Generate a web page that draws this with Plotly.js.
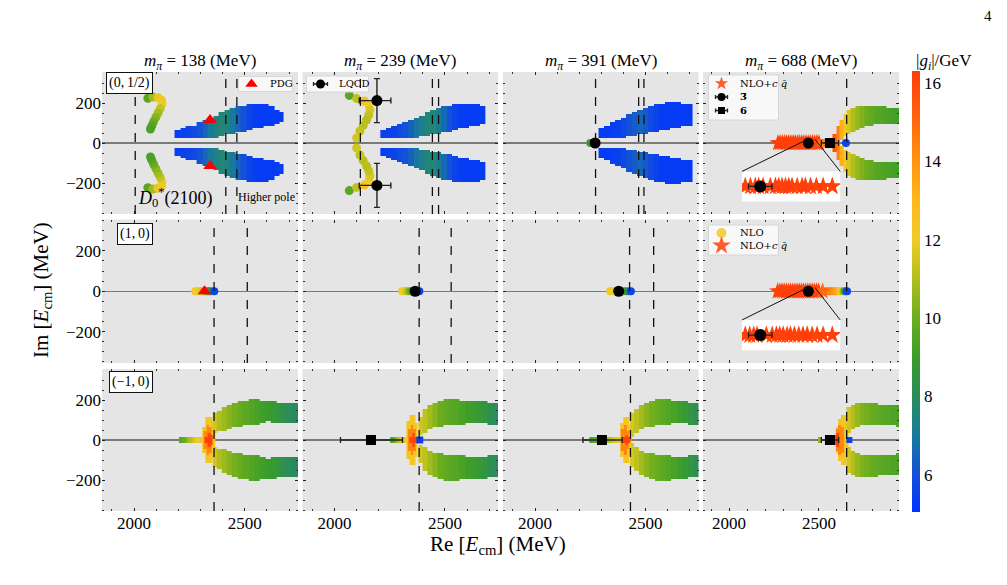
<!DOCTYPE html>
<html>
<head>
<meta charset="utf-8">
<script src="https://cdn.plot.ly/plotly-3.0.1.min.js"></script>
<style>html,body{margin:0;padding:0;background:#fff}#fig{width:1007px;height:585px}</style>
</head>
<body>
<div id="fig"></div>
<script>
// ======================= data (MeV) =======================
const pionMasses = [138, 239, 391, 688];
const channelLabels = ['(0,\u20091/2)', '(1,\u20090)', '(\u22121,\u20090)'];

// thresholds per row (columns = pion masses)
const thrTop = [[2005, 2414, 2464], [2117, 2443, 2471], [2274, 2469, 2493], [2654]];
const thrMid = [[2361, 2511], [2383, 2528], [2428, 2537], [2654]];
const thrBot = [[2361], [2383], [2432], [2654]];

// ---- (0,1/2), m_pi = 138 ----
const t138ArcRe = [2062, 2085, 2108, 2124, 2126, 2118, 2108, 2098, 2088, 2080, 2074];
const t138ArcIm = [224, 230, 226, 214, 195, 172, 150, 128, 106, 86, 70];
const t138ArcG  = [9.6, 10.8, 11.8, 12.3, 11.9, 11.3, 10.8, 10.4, 10.0, 9.6, 9.3];
const t138BandRe = [2195, 2220, 2245, 2270, 2295, 2320, 2345, 2370, 2395, 2420, 2445, 2470, 2495, 2520, 2545, 2570, 2595, 2620, 2645, 2665];
const t138BandLo = [28, 25, 25, 25, 25, 25, 27, 30, 36, 42, 48, 55, 60, 65, 72, 78, 84, 90, 100, 108];
const t138BandHi = [62, 72, 80, 88, 100, 112, 125, 138, 152, 165, 175, 182, 188, 195, 198, 196, 192, 185, 165, 150];
const t138BandG  = [5.4, 5.5, 5.6, 5.8, 6.0, 6.5, 7.0, 7.4, 7.6, 7.5, 7.0, 6.5, 6.0, 5.6, 5.4, 5.3, 5.3, 5.3, 5.3, 5.3];
const pdgD0Re = [2343, 2343];
const pdgD0Im = [114.5, -114.5];

// ---- (0,1/2), m_pi = 239 ----
const t239ArcRe = [2067, 2100, 2135, 2155, 2160, 2155, 2145, 2130, 2115, 2100];
const t239ArcIm = [238, 222, 210, 190, 165, 140, 115, 88, 60, 25];
const t239ArcG  = [9.6, 11.2, 12.6, 12.1, 11.6, 11.3, 11.1, 11.1, 11.3, 11.5];
const t239BandRe = [2220, 2245, 2270, 2295, 2320, 2345, 2370, 2395, 2420, 2445, 2470, 2495, 2520, 2545, 2570, 2595, 2620, 2645, 2670];
const t239BandLo = [25, 25, 25, 25, 25, 26, 28, 32, 37, 42, 48, 55, 60, 65, 72, 75, 82, 90, 98];
const t239BandHi = [62, 72, 80, 90, 100, 112, 125, 138, 150, 160, 172, 180, 188, 195, 198, 198, 196, 195, 185];
const t239BandG  = [5.4, 5.5, 5.6, 5.8, 6.0, 6.4, 6.9, 7.3, 7.6, 7.6, 7.2, 6.6, 6.0, 5.6, 5.4, 5.3, 5.3, 5.3, 5.3];
const lqcdRe = [2192, 2192];
const lqcdIm = [212, -212];
const lqcdErrRePlus = [63, 63];
const lqcdErrReMinus = [80, 80];
const lqcdErrIm = [110, 110];

// ---- (0,1/2), m_pi = 391 ----
const t391BandRe = [2300, 2325, 2350, 2375, 2400, 2425, 2450, 2475, 2500, 2525, 2550, 2575, 2600, 2625, 2650, 2675, 2700];
const t391BandLo = [28, 25, 25, 27, 30, 33, 37, 42, 50, 55, 60, 65, 68, 72, 78, 82, 88];
const t391BandHi = [75, 85, 100, 112, 125, 140, 155, 168, 178, 185, 190, 195, 200, 202, 200, 198, 195];
const t391BandG  = [5.3, 5.3, 5.4, 5.5, 5.7, 6.0, 6.3, 6.5, 6.2, 5.8, 5.5, 5.3, 5.3, 5.3, 5.3, 5.3, 5.3];
const t391NloRe = [2250];
const t391NloG  = [9.0];
const t391LatRe = [2272];

// ---- (0,1/2), m_pi = 688 ----
const t688StarRe = [2272, 2284, 2296, 2308, 2320, 2332, 2344, 2356, 2368, 2380, 2392, 2404, 2416, 2428, 2440, 2452, 2464, 2476, 2488, 2500];
const t688StarG  = [16.2, 16.3, 16.1, 16.2, 16.3, 16.2, 16.1, 16.3, 16.2, 16.2, 16.1, 16.3, 16.2, 16.2, 16.1, 16.2, 16.3, 16.2, 16.1, 16.0];
const t688NloRe = [2512, 2524, 2536, 2650];
const t688NloG  = [15.0, 14.7, 14.4, 5.6];
const t688BandRe = [2585, 2605, 2625, 2645, 2665, 2690, 2715, 2740, 2765, 2790, 2815, 2840, 2865, 2890, 2915, 2940];
const t688BandLo = [0, 0, 20, 35, 45, 55, 65, 80, 88, 90, 92, 92, 95, 98, 98, 98];
const t688BandHi = [40, 80, 115, 140, 160, 172, 180, 185, 187, 187, 185, 182, 180, 178, 176, 175];
const t688BandG  = [15.5, 14.5, 13.2, 12.3, 11.6, 11.0, 10.6, 10.3, 10.0, 9.8, 9.6, 9.5, 9.4, 9.3, 9.2, 9.2];
const trip3Re = [2441];
const trip3Err = [5];
const sext6Re = [2561];
const sext6Err = [48];
// zoomed strip around the 3bar point
const t688InsetStarRe = [2437.4, 2439.6, 2441.7, 2443.1, 2445.0, 2448.1, 2450.3, 2451.7, 2453.1, 2454.6, 2456.0, 2457.4, 2459.6, 2461.7, 2463.1, 2465.3, 2467.8, 2470.7, 2474.6];
const t688InsetStarG  = [16.2, 16.1, 16.3, 16.2, 16.2, 16.1, 16.3, 16.2, 16.2, 16.1, 16.3, 16.2, 16.1, 16.2, 16.3, 16.2, 16.1, 16.2, 16.2];
const t688InsetTripRe = [2443.8];

// ---- (1,0) ----
const m138NloRe = [2276, 2284, 2292, 2300, 2308, 2316, 2323, 2330, 2338, 2346, 2362];
const m138NloG  = [12.2, 12.1, 12.0, 11.8, 11.5, 11.0, 10.5, 10.0, 9.2, 8.5, 5.6];
const pdgDs0Re = [2317.8];
const m239NloRe = [2306, 2314, 2322, 2330, 2338, 2346, 2354, 2362, 2384];
const m239NloG  = [12.2, 12.0, 11.8, 11.2, 10.5, 9.8, 9.2, 8.5, 5.6];
const m239LatRe = [2365];
const m391NloRe = [2340, 2348, 2356, 2364, 2372, 2380, 2390, 2400, 2412, 2424, 2434];
const m391NloG  = [12.2, 12.1, 12.0, 11.8, 11.5, 11.0, 10.5, 10.0, 9.0, 8.0, 5.6];
const m391LatRe = [2379];
const m688StarRe = [2270, 2282, 2294, 2306, 2318, 2330, 2342, 2354, 2366, 2378, 2390, 2402, 2414, 2426, 2438, 2450, 2462, 2474, 2486, 2498, 2520];
const m688StarG  = [16.2, 16.1, 16.3, 16.2, 16.2, 16.1, 16.3, 16.2, 16.1, 16.2, 16.3, 16.2, 16.2, 16.1, 16.2, 16.3, 16.2, 16.1, 16.2, 16.1, 15.0];
const m688NloRe = [2535, 2548, 2561, 2574, 2587, 2600, 2612, 2624, 2636, 2646, 2656];
const m688NloG  = [14.8, 14.6, 14.4, 14.2, 14.0, 13.6, 13.0, 12.2, 10.5, 8.0, 5.6];
const m688LatRe = [2441];
const m688InsetStarRe = [2437.4, 2439.3, 2441.0, 2442.4, 2446.4, 2448.9, 2450.7, 2452.1, 2453.6, 2455.3, 2456.7, 2458.4, 2460.3, 2462.1, 2463.9, 2466.0, 2468.1, 2470.7, 2474.6];
const m688InsetStarG  = [16.2, 16.1, 16.3, 16.2, 16.2, 16.1, 16.3, 16.2, 16.2, 16.1, 16.3, 16.2, 16.1, 16.2, 16.3, 16.2, 16.1, 16.2, 16.2];
const m688InsetLatRe = [2443.8];

// ---- (-1,0) ----
const b138BarRe = [2210, 2225, 2240, 2255, 2270, 2285, 2300];
const b138BarG  = [9.5, 9.8, 10.5, 11.0, 11.5, 12.0, 12.3];
const b138FanYRe = [2315, 2330, 2345, 2358];
const b138FanYHi = [60, 110, 115, 90];
const b138FanORe = [2320, 2332, 2345];
const b138FanOHi = [40, 75, 60];
const b138FanRRe = [2325, 2338, 2350];
const b138FanRHi = [15, 35, 20];
const b138ArmRe = [2365, 2385, 2405, 2430, 2455, 2480, 2505, 2530, 2555, 2580, 2605, 2630, 2655, 2680, 2705, 2730];
const b138ArmLo = [40, 45, 50, 55, 62, 67, 72, 75, 80, 88, 92, 90, 88, 85, 83, 82];
const b138ArmHi = [135, 148, 160, 175, 185, 192, 198, 200, 200, 198, 197, 193, 188, 185, 185, 188];
const b138ArmG  = [11.5, 11.0, 10.7, 10.4, 10.1, 9.9, 9.7, 9.5, 9.3, 9.1, 9.0, 8.8, 8.5, 8.2, 8.0, 7.9];

const b239BarRe = [2258, 2272, 2286, 2300, 2314, 2326];
const b239BarG  = [9.5, 10.0, 10.8, 11.5, 12.0, 12.3];
const b239FanYRe = [2332, 2345, 2358, 2370];
const b239FanYHi = [90, 125, 120, 80];
const b239FanORe = [2338, 2350, 2362];
const b239FanOHi = [50, 75, 50];
const b239FanRRe = [2345, 2357, 2368];
const b239FanRHi = [15, 30, 15];
const b239EdgeRe = [2386];
const b239EdgeG  = [5.5];
const b239ArmRe = [2390, 2410, 2430, 2455, 2480, 2505, 2530, 2555, 2580, 2605, 2630, 2655, 2680, 2705, 2735];
const b239ArmLo = [25, 40, 55, 65, 70, 73, 75, 78, 80, 82, 83, 83, 82, 80, 78];
const b239ArmHi = [110, 150, 175, 188, 195, 200, 200, 200, 198, 196, 193, 192, 190, 186, 183];
const b239ArmG  = [11.5, 11.2, 10.8, 10.4, 10.0, 9.8, 9.6, 9.5, 9.3, 9.1, 9.0, 8.8, 8.5, 8.2, 8.0];
const b239SextRe = [2165];
const b239SextErrPlus = [143];
const b239SextErrMinus = [138];

const b391BarRe = [2252, 2265, 2278, 2290, 2318, 2332, 2346, 2360, 2374, 2386];
const b391BarG  = [9.3, 9.5, 9.8, 10.0, 10.5, 11.0, 11.3, 11.6, 12.0, 12.3];
const b391FanYRe = [2392, 2405, 2418, 2430];
const b391FanYHi = [80, 115, 110, 75];
const b391FanORe = [2395, 2408, 2420];
const b391FanOHi = [55, 75, 45];
const b391FanRRe = [2402, 2414, 2425];
const b391FanRHi = [15, 25, 12];
const b391ArmRe = [2440, 2460, 2480, 2505, 2530, 2555, 2580, 2605, 2630, 2655, 2680, 2705, 2730];
const b391ArmLo = [20, 40, 55, 65, 70, 75, 78, 80, 82, 83, 83, 80, 78];
const b391ArmHi = [130, 155, 175, 188, 195, 200, 203, 202, 198, 195, 192, 188, 185];
const b391ArmG  = [11.6, 11.2, 10.8, 10.4, 10.1, 9.9, 9.7, 9.5, 9.3, 9.1, 8.8, 8.5, 8.2];
const b391SextRe = [2303];
const b391SextErrPlus = [91];
const b391SextErrMinus = [86];

const b688BarRe = [2500, 2512];
const b688BarG  = [10.5, 10.8];
const b688FanYRe = [2600, 2615, 2630, 2645, 2660];
const b688FanYHi = [60, 100, 125, 120, 100];
const b688FanORe = [2585, 2600, 2615, 2630];
const b688FanOHi = [20, 50, 70, 60];
const b688FanRRe = [2580, 2592, 2605];
const b688FanRHi = [12, 25, 30];
const b688EdgeRe = [2669];
const b688EdgeG  = [5.5];
const b688ArmRe = [2665, 2690, 2715, 2740, 2765, 2790, 2815, 2840, 2865, 2890, 2915, 2940];
const b688ArmLo = [40, 60, 70, 73, 75, 75, 73, 72, 72, 73, 72, 70];
const b688ArmHi = [160, 172, 180, 183, 183, 182, 180, 178, 177, 175, 172, 170];
const b688ArmG  = [11.5, 11.0, 10.6, 10.3, 10.1, 9.9, 9.8, 9.7, 9.6, 9.5, 9.4, 9.4];

// fixed |g| levels of the fan layers
const fanYellowG = 12.3, fanOrangeG = 14.3, fanRedG = 16.1;

// ======================= layout geometry =======================
const W = 1007, H = 585;
const COLS = [[102, 298], [302.5, 498], [503, 698.5], [703, 899]];
const ROWS = [[72, 214], [219.5, 363], [369, 511]];
const RE_RANGE = [[1855, 2740], [1855, 2740], [1855, 2740], [1855, 2945]];
const IM_RANGE = [-355, 355];
const SERIF = '"Liberation Serif", "DejaVu Serif", serif';

const G_MIN = 5.05, G_MAX = 16.3;
const colorscale = [
  [0.000, '#0033ff'], [0.084, '#1450d8'], [0.173, '#177a9c'], [0.262, '#2b8c5c'],
  [0.351, '#3a9c2a'], [0.440, '#6cad1e'], [0.529, '#b1bf1c'], [0.618, '#f0cc28'],
  [0.707, '#ffb71c'], [0.796, '#ff9410'], [0.884, '#ff6a0e'], [1.000, '#ff3c0a']
];

function ids(r, c) {
  const k = r * 4 + c + 1;
  const s = k === 1 ? '' : String(k);
  return { x: 'x' + s, y: 'y' + s, k };
}

// Im grid used to rasterise the pole bands
const imGrid = [];
for (let v = -350; v <= 350; v += 10) imGrid.push(v);

const traces = [];

// band of poles: one column per Re sample, Im spanning [lo, hi] (and its conjugate)
function band(r, c, re, lo, hi, g, conj) {
  const a = ids(r, c);
  const gv = Array.isArray(g) ? g : re.map(() => g);
  const z = imGrid.map(y => re.map((_, i) => {
    const inUp = y >= lo[i] - 0.1 && y <= hi[i] + 0.1;
    const inDn = conj && y >= -hi[i] - 0.1 && y <= -lo[i] + 0.1;
    return (inUp || inDn) ? gv[i] : null;
  }));
  traces.push({ type: 'heatmap', x: re, y: imGrid, z, coloraxis: 'coloraxis',
    xaxis: a.x, yaxis: a.y, hoverinfo: 'skip', showlegend: false });
}
function zeros(arr) { return arr.map(() => 0); }

function colored(r, c, re, im, g, symbol, size) {
  const a = ids(r, c);
  traces.push({ type: 'scatter', mode: 'markers', x: re, y: im,
    xaxis: a.x, yaxis: a.y, hoverinfo: 'skip', showlegend: false,
    marker: { color: g, coloraxis: 'coloraxis', symbol, size, line: { width: 0 } } });
}
function conjPair(arr, neg) { return arr.concat(neg ? arr.map(v => -v) : arr); }
function black(r, c, re, im, symbol, size, errX) {
  const a = ids(r, c);
  const t = { type: 'scatter', mode: 'markers', x: re, y: im, xaxis: a.x, yaxis: a.y,
    showlegend: false, hoverinfo: 'skip', marker: { symbol, color: '#000', size } };
  if (errX) t.error_x = Object.assign({ type: 'data', color: '#222', thickness: 1.4, width: 3 }, errX);
  traces.push(t);
  return t;
}

// ---------- row 1 : (0,1/2) ----------
band(0, 0, t138BandRe, t138BandLo, t138BandHi, t138BandG, true);
colored(0, 0, conjPair(t138ArcRe), conjPair(t138ArcIm, true), conjPair(t138ArcG), 'circle', 9);
traces.push({ type: 'scatter', mode: 'markers', x: pdgD0Re, y: pdgD0Im, xaxis: 'x', yaxis: 'y',
  showlegend: false, hoverinfo: 'skip', marker: { symbol: 'triangle-up', color: '#ff0000', size: 12 } });

band(0, 1, t239BandRe, t239BandLo, t239BandHi, t239BandG, true);
colored(0, 1, conjPair(t239ArcRe), conjPair(t239ArcIm, true), conjPair(t239ArcG), 'circle', 9);
const lq = black(0, 1, lqcdRe, lqcdIm, 'circle', 11,
  { symmetric: false, array: lqcdErrRePlus, arrayminus: lqcdErrReMinus });
lq.error_y = { type: 'data', array: lqcdErrIm, color: '#222', thickness: 1.4, width: 3 };

band(0, 2, t391BandRe, t391BandLo, t391BandHi, t391BandG, true);
colored(0, 2, t391NloRe, zeros(t391NloRe), t391NloG, 'circle', 8);
black(0, 2, t391LatRe, zeros(t391LatRe), 'circle', 11);

band(0, 3, t688BandRe, t688BandLo, t688BandHi, t688BandG, true);
colored(0, 3, t688StarRe, zeros(t688StarRe), t688StarG, 'star', 13);
colored(0, 3, t688NloRe, zeros(t688NloRe), t688NloG, 'circle', 8);
black(0, 3, trip3Re, zeros(trip3Re), 'circle', 11, { array: trip3Err });
black(0, 3, sext6Re, zeros(sext6Re), 'square', 10, { array: sext6Err });

// ---------- row 2 : (1,0) ----------
colored(1, 0, m138NloRe, zeros(m138NloRe), m138NloG, 'circle', 8);
traces.push({ type: 'scatter', mode: 'markers', x: pdgDs0Re, y: zeros(pdgDs0Re), xaxis: 'x5', yaxis: 'y5',
  showlegend: false, hoverinfo: 'skip', marker: { symbol: 'triangle-up', color: '#ff0000', size: 12 } });
colored(1, 1, m239NloRe, zeros(m239NloRe), m239NloG, 'circle', 8);
black(1, 1, m239LatRe, zeros(m239LatRe), 'circle', 11);
colored(1, 2, m391NloRe, zeros(m391NloRe), m391NloG, 'circle', 8);
black(1, 2, m391LatRe, zeros(m391LatRe), 'circle', 11);
colored(1, 3, m688NloRe, zeros(m688NloRe), m688NloG, 'circle', 8);
colored(1, 3, m688StarRe, zeros(m688StarRe), m688StarG, 'star', 13);
black(1, 3, m688LatRe, zeros(m688LatRe), 'circle', 11);

// ---------- row 3 : (-1,0) ----------
function fanAndArms(c, barRe, barG, yRe, yHi, oRe, oHi, rRe, rHi, armRe, armLo, armHi, armG) {
  band(2, c, barRe, barRe.map(() => 0), barRe.map(() => 15), barG, true);
  band(2, c, yRe, yRe.map(() => 0), yHi, fanYellowG, true);
  band(2, c, oRe, oRe.map(() => 0), oHi, fanOrangeG, true);
  band(2, c, rRe, rRe.map(() => 0), rHi, fanRedG, true);
  band(2, c, armRe, armLo, armHi, armG, true);
}
fanAndArms(0, b138BarRe, b138BarG, b138FanYRe, b138FanYHi, b138FanORe, b138FanOHi, b138FanRRe, b138FanRHi, b138ArmRe, b138ArmLo, b138ArmHi, b138ArmG);
fanAndArms(1, b239BarRe, b239BarG, b239FanYRe, b239FanYHi, b239FanORe, b239FanOHi, b239FanRRe, b239FanRHi, b239ArmRe, b239ArmLo, b239ArmHi, b239ArmG);
fanAndArms(2, b391BarRe, b391BarG, b391FanYRe, b391FanYHi, b391FanORe, b391FanOHi, b391FanRRe, b391FanRHi, b391ArmRe, b391ArmLo, b391ArmHi, b391ArmG);
fanAndArms(3, b688BarRe, b688BarG, b688FanYRe, b688FanYHi, b688FanORe, b688FanOHi, b688FanRRe, b688FanRHi, b688ArmRe, b688ArmLo, b688ArmHi, b688ArmG);
colored(2, 1, b239EdgeRe, zeros(b239EdgeRe), b239EdgeG, 'square', 7);
colored(2, 3, b688EdgeRe, zeros(b688EdgeRe), b688EdgeG, 'square', 6);
black(2, 1, b239SextRe, zeros(b239SextRe), 'square', 10, { symmetric: false, array: b239SextErrPlus, arrayminus: b239SextErrMinus });
black(2, 2, b391SextRe, zeros(b391SextRe), 'square', 10, { symmetric: false, array: b391SextErrPlus, arrayminus: b391SextErrMinus });
black(2, 3, sext6Re, zeros(sext6Re), 'square', 10, { array: sext6Err });

// ---------- zoomed insets in the m_pi = 688 column ----------
const insetBoxRe = [2072, 2618];
const insetBoxIm = [-292, -142];
const insetRe = [2436, 2478];
const insetIm = [-18, 18];

function toPx(r, c, re, im) {
  const [x0, x1] = COLS[c], [y0, y1] = ROWS[r];
  const [a, b] = RE_RANGE[c];
  return [x0 + (re - a) / (b - a) * (x1 - x0),
          y1 - (im - IM_RANGE[0]) / (IM_RANGE[1] - IM_RANGE[0]) * (y1 - y0)];
}

const layout = {
  width: W, height: H, margin: { l: 0, r: 0, t: 0, b: 0 },
  paper_bgcolor: '#fff', plot_bgcolor: 'rgba(0,0,0,0)',
  hovermode: false, showlegend: false, font: { family: SERIF, color: '#000' },
  coloraxis: {
    colorscale, cmin: G_MIN, cmax: G_MAX,
    colorbar: {
      x: 912 / W, xanchor: 'left', xpad: 0, ypad: 0,
      y: 1 - 291.5 / H, yanchor: 'middle', len: 441 / H, lenmode: 'fraction',
      thickness: 8, outlinewidth: 0, ticks: '',
      tickvals: [6, 8, 10, 12, 14, 16], tickfont: { family: SERIF, size: 17, color: '#000' }
    }
  },
  shapes: [], annotations: []
};

for (let r = 0; r < 3; r++) {
  for (let c = 0; c < 4; c++) {
    const a = ids(r, c);
    const xk = 'xaxis' + (a.k === 1 ? '' : a.k), yk = 'yaxis' + (a.k === 1 ? '' : a.k);
    layout[xk] = {
      domain: [COLS[c][0] / W, COLS[c][1] / W], anchor: a.y, range: RE_RANGE[c],
      showgrid: false, zeroline: false, showline: false, mirror: 'ticks',
      ticks: 'inside', ticklen: 3, tickwidth: 1, tickcolor: '#222',
      tick0: 2000, dtick: 500, showticklabels: r === 2,
      tickfont: { family: SERIF, size: 17, color: '#000' },
      minor: { dtick: 100, ticks: 'inside', ticklen: 2, tickcolor: '#333', showgrid: false }
    };
    layout[yk] = {
      domain: [1 - ROWS[r][1] / H, 1 - ROWS[r][0] / H], anchor: a.x, range: IM_RANGE,
      showgrid: false, zeroline: true, zerolinecolor: '#7a7a7a', zerolinewidth: 1.2,
      showline: false, mirror: 'ticks',
      ticks: 'inside', ticklen: 3, tickwidth: 1, tickcolor: '#222',
      tick0: 0, dtick: 200, showticklabels: c === 0,
      tickfont: { family: SERIF, size: 17, color: '#000' },
      minor: { dtick: 50, ticks: 'inside', ticklen: 2, tickcolor: '#333', showgrid: false }
    };
    // panel background
    layout.shapes.push({ type: 'rect', xref: a.x + ' domain', yref: a.y + ' domain',
      x0: 0, x1: 1, y0: 0, y1: 1, fillcolor: '#e5e5e5', line: { width: 0 }, layer: 'below' });
    // channel thresholds
    const thr = [thrTop, thrMid, thrBot][r][c];
    thr.forEach(t => layout.shapes.push({ type: 'line', xref: a.x, yref: a.y + ' domain',
      x0: t, x1: t, y0: 0, y1: 1, line: { color: '#111', width: 1.3, dash: 'dash' }, layer: 'above' }));
  }
}

// insets (rows 1 and 2 of the last column)
[[0, 13, t688InsetStarRe, t688InsetStarG, t688InsetTripRe, trip3Err],
 [1, 14, m688InsetStarRe, m688InsetStarG, m688InsetLatRe, trip3Err]].forEach(([r, k, sRe, sG, cRe, cErr]) => {
  const a = ids(r, 3);
  const [px0, py1] = toPx(r, 3, insetBoxRe[0], insetBoxIm[0]);
  const [px1, py0] = toPx(r, 3, insetBoxRe[1], insetBoxIm[1]);
  layout['xaxis' + k] = { domain: [px0 / W, px1 / W], anchor: 'y' + k, range: insetRe, visible: false, fixedrange: true };
  layout['yaxis' + k] = { domain: [1 - py1 / H, 1 - py0 / H], anchor: 'x' + k, range: insetIm, visible: false, fixedrange: true };
  layout.shapes.push({ type: 'rect', xref: a.x, yref: a.y, x0: insetBoxRe[0], x1: insetBoxRe[1],
    y0: insetBoxIm[0], y1: insetBoxIm[1], fillcolor: '#ffffff', line: { width: 0 }, layer: 'below' });
  layout.shapes.push({ type: 'line', xref: a.x, yref: a.y, x0: insetBoxRe[0], y0: insetBoxIm[1],
    x1: insetRe[0], y1: insetIm[1], line: { color: '#111', width: 1 }, layer: 'above' });
  layout.shapes.push({ type: 'line', xref: a.x, yref: a.y, x0: insetBoxRe[1], y0: insetBoxIm[1],
    x1: insetRe[1], y1: insetIm[1], line: { color: '#111', width: 1 }, layer: 'above' });
  traces.push({ type: 'scatter', mode: 'markers', x: sRe, y: zeros(sRe), xaxis: 'x' + k, yaxis: 'y' + k,
    showlegend: false, hoverinfo: 'skip', cliponaxis: true,
    marker: { symbol: 'star', size: 14, color: sG, coloraxis: 'coloraxis', line: { width: 0 } } });
  traces.push({ type: 'scatter', mode: 'markers', x: cRe, y: zeros(cRe), xaxis: 'x' + k, yaxis: 'y' + k,
    showlegend: false, hoverinfo: 'skip', marker: { symbol: 'circle', size: 12, color: '#000' },
    error_x: { type: 'data', array: cErr, color: '#222', thickness: 1.4, width: 3 } });
});

// ---------- legend keys, drawn on a page-sized overlay (pixel units) ----------
layout.xaxis15 = { domain: [0, 1], anchor: 'y15', range: [0, W], visible: false, fixedrange: true };
layout.yaxis15 = { domain: [0, 1], anchor: 'x15', range: [H, 0], visible: false, fixedrange: true };
const legendBoxes = [[238.5, 76.5, 292.5, 91.5], [306.5, 76, 368.5, 92], [708.5, 75, 778.5, 120], [708.5, 225, 778.5, 255]];
legendBoxes.forEach(([x0, y0, x1, y1]) => layout.shapes.push({ type: 'rect', xref: 'x15', yref: 'y15',
  x0, y0, x1, y1, fillcolor: 'rgba(250,250,250,0.88)', line: { color: '#d6d6d6', width: 1 }, layer: 'below' }));
const legendKeys = [
  { x: 251.5, y: 84, symbol: 'triangle-up', color: '#ff0000', size: 11, text: 'PDG' },
  { x: 320.5, y: 84, symbol: 'circle', color: '#000', size: 9, err: 7, text: 'LQCD' },
  { x: 721.5, y: 83.5, symbol: 'star', color: '#ff5a2a', size: 10, text: 'NLO+<i>c q\u0304</i>' },
  { x: 721.5, y: 97, symbol: 'circle', color: '#000', size: 8, err: 6, text: '<b>3\u0304</b>' },
  { x: 721.5, y: 110.5, symbol: 'square', color: '#000', size: 7, err: 6, text: '<b>6</b>' },
  { x: 721.5, y: 233, symbol: 'circle', color: '#f2d04a', size: 10, text: 'NLO' },
  { x: 721.5, y: 245.5, symbol: 'star', color: '#ff5a2a', size: 14, text: 'NLO+<i>c q\u0304</i>' }
];
legendKeys.forEach(k => {
  const t = { type: 'scatter', mode: 'markers', x: [k.x], y: [k.y], xaxis: 'x15', yaxis: 'y15',
    showlegend: false, hoverinfo: 'skip', cliponaxis: false,
    marker: { symbol: k.symbol, color: k.color, size: k.size, line: { width: 0 } } };
  if (k.err) t.error_x = { type: 'data', array: [k.err], color: '#222', thickness: 1.3, width: 2 };
  traces.push(t);
  layout.annotations.push({ xref: 'paper', yref: 'paper', x: (k.x + 16) / W, y: 1 - k.y / H,
    xanchor: 'left', yanchor: 'middle', text: k.text, showarrow: false,
    font: { family: '"DejaVu Serif", "Liberation Serif", serif', size: 10 } });
});

// text
const ann = layout.annotations;
pionMasses.forEach((m, c) => ann.push({ xref: 'paper', yref: 'paper',
  x: (COLS[c][0] + COLS[c][1]) / 2 / W, y: 1 - 62 / H, xanchor: 'center', yanchor: 'middle',
  text: '<i>m<sub>\u03c0</sub></i> = ' + m + ' (MeV)', showarrow: false, font: { family: SERIF, size: 17 } }));
[[83], [234], [382]].forEach(([py], r) => ann.push({ xref: 'paper', yref: 'paper',
  x: 153 / W, y: 1 - py / H, xanchor: 'right', yanchor: 'middle', text: channelLabels[r], showarrow: false,
  font: { family: SERIF, size: 14 }, bgcolor: '#ffffff', bordercolor: '#111', borderwidth: 1, borderpad: 2 }));
ann.push({ xref: 'paper', yref: 'paper', x: 175 / W, y: 1 - 197 / H, xanchor: 'center', yanchor: 'middle',
  text: '<i>D</i><sub>0</sub><sup>*</sup>(2100)', showarrow: false, font: { family: SERIF, size: 18 } });
ann.push({ xref: 'paper', yref: 'paper', x: 266 / W, y: 1 - 197 / H, xanchor: 'center', yanchor: 'middle',
  text: 'Higher pole', showarrow: false, font: { family: SERIF, size: 12 } });
ann.push({ xref: 'paper', yref: 'paper', x: 498 / W, y: 1 - 545 / H, xanchor: 'center', yanchor: 'middle',
  text: 'Re [<i>E</i><sub>cm</sub>] (MeV)', showarrow: false, font: { family: SERIF, size: 21 } });
ann.push({ xref: 'paper', yref: 'paper', x: 42 / W, y: 1 - 290 / H, xanchor: 'center', yanchor: 'middle',
  text: 'Im [<i>E</i><sub>cm</sub>] (MeV)', textangle: -90, showarrow: false, font: { family: SERIF, size: 21 } });
ann.push({ xref: 'paper', yref: 'paper', x: 944 / W, y: 1 - 62 / H, xanchor: 'center', yanchor: 'middle',
  text: '|<i>g<sub>i</sub></i>|/GeV', showarrow: false, font: { family: SERIF, size: 17 } });
ann.push({ xref: 'paper', yref: 'paper', x: 988 / W, y: 1 - 16 / H, xanchor: 'center', yanchor: 'middle',
  text: '4', showarrow: false, font: { family: SERIF, size: 15 } });

Plotly.newPlot('fig', traces, layout, { staticPlot: true, displayModeBar: false });
</script>
</body>
</html>
